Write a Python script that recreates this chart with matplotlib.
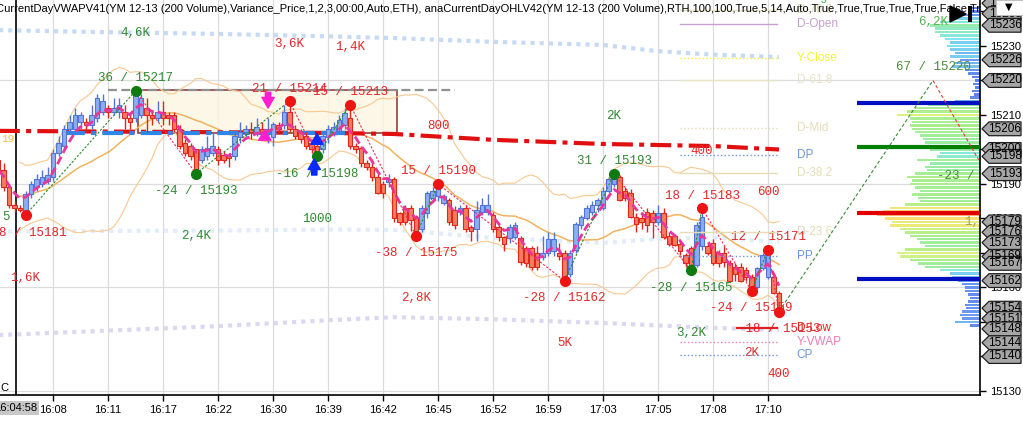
import numpy as np
import pandas as pd
import matplotlib
matplotlib.use("Agg")
import matplotlib.pyplot as plt
import matplotlib.transforms as mtransforms
from matplotlib.colors import LinearSegmentedColormap, Normalize
from matplotlib.patches import Polygon, Rectangle

# ==================================
# DATA
# ==================================

opens = [
    15197, 15194, 15189, 15184, 15183, 15182, 15187, 15189, 15190, 15191,
    15192, 15199, 15201, 15206, 15206, 15208, 15208, 15207, 15209, 15211,
    15212, 15211, 15211, 15211, 15209, 15209, 15210, 15212, 15210, 15209,
    15211, 15210, 15210, 15206, 15202, 15201, 15200, 15197, 15198, 15199,
    15200, 15198.5, 15198, 15198, 15203.5, 15205, 15206, 15205, 15206, 15205,
    15203.5, 15207, 15207, 15211, 15206, 15205, 15204, 15202, 15201, 15200,
    15203.5, 15205, 15205.5, 15207, 15209, 15201, 15200.5, 15196, 15195, 15192,
    15190, 15190.5, 15191.5, 15181.5, 15183, 15183, 15180.5, 15177, 15181.5, 15186,
    15186.5, 15184.5, 15185.5, 15182.5, 15182, 15183, 15177.5, 15177, 15182, 15182,
    15181, 15177.5, 15174.5, 15174.3, 15174.5, 15174.3, 15171.5, 15171.5, 15170, 15168.8,
    15170, 15170.5, 15170, 15170, 15164, 15171, 15178, 15180, 15182, 15184,
    15183, 15188, 15190, 15192, 15188, 15187.5, 15180.5, 15180, 15182, 15181.5,
    15179, 15181.5, 15175, 15175, 15172.5, 15169.5, 15171.5, 15166.5, 15172, 15172,
    15173, 15170, 15170, 15167, 15166, 15166, 15165, 15163, 15160, 15165.6,
    15163, 15163, 15158.4,
]
highs = [
    15199, 15196, 15190, 15185, 15184, 15188, 15191, 15193, 15194, 15195,
    15200, 15204, 15207, 15210, 15212, 15211, 15209, 15213, 15216, 15216,
    15213, 15215, 15215, 15213, 15211, 15217.2, 15216, 15215, 15211, 15214,
    15214, 15211, 15211, 15207, 15203, 15202, 15200, 15201, 15204, 15205,
    15201, 15199.5, 15199, 15205, 15208, 15207, 15208, 15209, 15208, 15209,
    15208, 15208, 15213, 15214.3, 15207, 15206, 15205, 15203, 15202, 15205,
    15207, 15208, 15210, 15212, 15213.5, 15202, 15201, 15197, 15196, 15193,
    15191, 15193, 15192, 15182, 15184, 15184, 15181, 15184, 15188, 15189,
    15190.3, 15187, 15186, 15183.5, 15184, 15184, 15178, 15185, 15186, 15187,
    15182, 15178, 15175, 15178.5, 15179, 15175, 15172, 15172, 15172, 15175,
    15176, 15176, 15173, 15171, 15171, 15179, 15181, 15184, 15185, 15186,
    15189, 15192, 15193.2, 15192.5, 15189, 15188.5, 15181.5, 15182, 15183, 15182.5,
    15184, 15183, 15176, 15175.5, 15173.5, 15170, 15172, 15179, 15183.3, 15173,
    15174, 15171, 15172, 15168, 15167, 15167, 15166, 15164, 15166, 15170,
    15171.4, 15164, 15159,
]
lows = [
    15193, 15188, 15183, 15182, 15182, 15181, 15186, 15188, 15189, 15190,
    15191, 15198, 15200, 15205, 15205, 15206, 15205, 15206, 15208, 15210,
    15209, 15210, 15209, 15206, 15206, 15208, 15209, 15205, 15207, 15208,
    15207, 15207, 15205, 15200, 15198, 15197, 15193.3, 15196, 15197, 15198,
    15195.5, 15196, 15195, 15197, 15202, 15203, 15203, 15204, 15204, 15202,
    15201, 15205, 15206, 15205, 15203, 15202, 15200, 15199, 15198.4, 15199,
    15202, 15204, 15205, 15206, 15200, 15199, 15195, 15194, 15191, 15187,
    15186, 15189, 15179, 15178, 15178, 15176.5, 15175.2, 15176, 15180, 15185,
    15185, 15184, 15178, 15177, 15181, 15176, 15173.5, 15173.5, 15181, 15181,
    15176, 15173.5, 15170.5, 15173, 15174, 15166.5, 15166, 15165, 15165, 15168,
    15169, 15169, 15168, 15162.2, 15163, 15170, 15177, 15179.5, 15181, 15182,
    15182.5, 15187.5, 15189, 15185, 15185, 15180, 15176, 15177, 15176, 15174.3,
    15178, 15174, 15172, 15172, 15169.5, 15166, 15165.6, 15166, 15171, 15169.5,
    15166.5, 15166, 15166, 15161.5, 15162, 15161.5, 15162, 15159.3, 15159.5, 15165,
    15162.5, 15158, 15153.2,
]
closes = [
    15194, 15189, 15184, 15183, 15182.5, 15187, 15190, 15191.5, 15192, 15192.5,
    15199, 15202, 15206, 15208, 15210, 15210, 15207, 15210, 15215, 15214,
    15211, 15212, 15213, 15209, 15208, 15216, 15215, 15210, 15209, 15211,
    15209, 15209, 15206, 15201, 15199, 15198, 15194, 15200, 15200.5, 15201,
    15197, 15197, 15197.5, 15204, 15205, 15206, 15205, 15206.5, 15205, 15206,
    15207.5, 15206, 15211, 15206, 15204, 15203, 15201, 15200, 15199.5, 15204,
    15206, 15206.5, 15208.5, 15210.5, 15201, 15200, 15196, 15195, 15192, 15187.5,
    15187.5, 15191.5, 15180, 15179, 15179, 15179.5, 15176.5, 15183, 15187.5, 15188,
    15189, 15186.5, 15179, 15178, 15183, 15177, 15176.5, 15182.5, 15184, 15184,
    15177, 15174.5, 15172.5, 15177.5, 15178, 15167.4, 15167, 15166, 15166, 15170,
    15174, 15174, 15169, 15163, 15170, 15178.5, 15180.5, 15183, 15184, 15185.5,
    15188, 15191.5, 15192.5, 15185.5, 15186, 15180.5, 15178.5, 15179, 15178, 15179,
    15181.5, 15174.6, 15172.5, 15172.3, 15170.5, 15167, 15166, 15178, 15180.5, 15170,
    15167, 15167, 15167.5, 15162, 15164, 15162, 15163, 15160, 15165.6, 15169.4,
    15169.4, 15158.5, 15153.5,
]

time_ticks = [10, 20, 30, 40, 50, 60, 70, 80, 90, 100, 110, 120, 130, 140]
time_labels = [
    "16:08", "16:11", "16:17", "16:22", "16:30", "16:39", "16:42",
    "16:45", "16:52", "16:59", "17:03", "17:05", "17:08", "17:10"
]
session_break = 3.3

# zigzag swings
swing_idx = [5, 25, 36, 53, 58, 64, 76, 80, 103, 112, 126, 128, 137, 140, 142]
swing_price = [15181, 15217, 15193, 15214, 15198, 15213, 15175, 15190,
               15162, 15193, 15165, 15183, 15159, 15171, 15153]
swing_prev = 15199
swing_green = [False, True, True, False, True, False, False, False,
               False, True, True, False, False, False, False]
swing_vol = ["1,6K", "4,6K", "2,4K", "3,6K", "1000", "1,4K", "2,8K", "800",
             "5K", "2K", "3,2K", "400", "2K", "600", "400"]

# projected swings
proj_idx = [142, 170, 178.3]
proj_price = [15153, 15220, 15197]
proj_vol = ["", "6,2K", "1,8K"]

# vwap and its bands
vwap_idx = [0, 20, 40, 60, 72, 90, 110, 120, 130, 142]
vwap = [15205.4, 15205.2, 15205.0, 15204.8, 15204.5, 15202.8, 15201.6,
        15201.3, 15201.0, 15200.0]
band_up1 = [15234.6, 15234.0, 15233.5, 15232.8, 15232.3, 15231.2, 15230.3,
            15228.5, 15227.5, 15226.8]
band_dn1 = [15176.2, 15176.4, 15176.5, 15176.8, 15176.7, 15174.4, 15172.9,
            15174.1, 15174.5, 15173.2]
band_dn2 = [15146.2, 15147.5, 15148.8, 15150.5, 15151.4, 15150.8, 15149.7,
            15149.0, 15148.3, 15147.7]
vwap_flat_start, vwap_flat_end, vwap_flat = 12, 63, 15204.8

# sideways box
box_x = [25.5, 72.5]
box_y = [15204.8, 15217.2]
box_ref_x = [20, 83]

# signal arrows (index, tail price, tip price, colour)
sig_idx = [49.1, 48.5, 57.5, 58.0]
sig_tail = [15216.6, 15203.4, 15192.6, 15202.3]
sig_tip = [15212.0, 15205.8, 15197.3, 15204.6]
sig_col = ["#ff1fd0", "#ff1fd0", "#0a2aff", "#0a2aff"]

# day levels
level_names = ["D-High", "D-78.6", "D-Open", "Y-Close", "D-61.8", "D-Mid", "DP",
               "D-38.2", "D-23.6", "PP", "D-Low", "Y-VWAP", "CP"]
level_prices = [15244.3, 15240.4, 15236.4, 15226.5, 15220.1, 15206.2, 15198.4,
                15193.2, 15176.0, 15169.1, 15148.3, 15144.2, 15140.4]
level_colors = ["#3cc43c", "#e6e2bc", "#c8a0d0", "#f2f230", "#e8e4c6", "#e4dcb4",
                "#6c94d8", "#e4dcb4", "#e4dcb4", "#6c94d8", "#e02020", "#e87cb4",
                "#6c94d8"]
level_styles = ["-", "-", "-", ":", "-", ":", ":", "-", "-", ":", "-", ":", ":"]
level_start = [124, 124, 124, 124, 124, 124, 124, 124, 124, 124, 134.4, 124, 124]
level_end = 141.6

# right side key lines
key_prices = [15213.5, 15200.7, 15181.6, 15162.5]
key_colors = ["#0010c0", "#008000", "#e00000", "#0010c0"]
key_start = 156.2

# volume profile (one row per point)
profile_price = list(range(15149, 15242))
profile_vol = [
    10, 25, 18, 20, 18, 14, 15, 12, 10, 12,
    15, 15, 18, 22, 28, 30, 40, 55, 62, 70,
    80, 83, 75, 55, 60, 63, 70, 75, 80, 90,
    88, 95, 103, 97, 90, 75, 60, 62, 68, 60,
    65, 70, 68, 73, 65, 53, 55, 50, 63, 43,
    40, 50, 52, 55, 57, 60, 65, 68, 70, 68,
    70, 83, 73, 65, 52, 25, 10, 6, 8, 5,
    7, 5, 8, 12, 15, 28, 25, 20, 30, 25,
    30, 33, 30, 35, 40, 45, 45, 50, 40, 30,
    20, 8, 10,
]

# price markers on the right axis
marker_prices = [15242.4, 15239.4, 15236, 15226, 15220, 15206, 15200, 15198,
                 15193, 15179, 15176, 15173, 15169, 15167, 15162, 15154,
                 15151, 15148, 15144, 15140]
marker_labels = ["15242", "15239", "15236", "15226", "15220", "15206", "15200",
                 "15198", "15193", "15179", "15176", "15173", "15169", "15167",
                 "15162", "15154", "15151", "15148", "15144", "15140"]

title = ("CurrentDayVWAPV41(YM 12-13 (200 Volume),Variance_Price,1,2,3,00:00,Auto,ETH), "
         "anaCurrentDayOHLV42(YM 12-13 (200 Volume),RTH,100,100,True,5,14,Auto,"
         "True,True,True,True,True,False,True,True")

# ==================================
# FIGURE
# ==================================

W, H = 1023, 423
PX = 5.5  # pixels per bar


def fx(px):
    return px / W


def fy(py):
    return 1 - py / H


fig = plt.figure(figsize=(W / 100, H / 100), dpi=100)
fig.patch.set_facecolor("white")
ax = fig.add_axes([0, fy(395), fx(980), 395 / H])
ax.set_xlim(2 / PX, 982 / PX)
ax.set_ylim(15128.84, 15243.33)
xmax = 982 / PX

mono = "Liberation Mono"
sans = "Liberation Sans"
RED = "#e4282c"
GREEN = "#2f8a32"

# grid
for t in time_ticks:
    ax.axvline(t, color="#dcdcdc", lw=0.9, zorder=0)
for g in [15130, 15160, 15190, 15220]:
    ax.axhline(g, color="#dcdcdc", lw=0.9, zorder=0)

ax.axvline(session_break, color="black", lw=1.2, zorder=1)

# ==================================
# VOLUME PROFILE
# ==================================

prof_cmap = LinearSegmentedColormap.from_list(
    "prof",
    [(0, "#5a78e8"), (0.2, "#6c9cf0"), (0.33, "#80e6f2"), (0.5, "#98eca6"),
     (0.7, "#acee8e"), (0.82, "#def27e"), (0.92, "#f8e274"), (1.0, "#ffb474")]
)
pv = np.array(profile_vol, dtype=float)
pnorm = Normalize(0, pv.max())
ax.barh(profile_price, pv / PX, left=xmax - pv / PX, height=0.72,
        color=prof_cmap(pnorm(pv)), linewidth=0, zorder=1)

# ==================================
# VWAP BANDS
# ==================================

ax.plot(vwap_idx, band_up1, color="#c6daf6", lw=3, ls=(0, (1, 1.2)), zorder=1)
ax.plot(vwap_idx, band_dn1, color="#e2ecfa", lw=3, ls=(0, (1, 1.2)), zorder=1)
ax.plot(vwap_idx, band_dn2, color="#dcd8f0", lw=3, ls=(0, (1, 1.2)), zorder=1)

# sideways box
ax.add_patch(Rectangle((box_x[0], box_y[0]), box_x[1] - box_x[0], box_y[1] - box_y[0],
                       facecolor="#fcf6e2", alpha=0.8, edgecolor="#7a1010",
                       lw=1.2, zorder=1))
ax.plot(box_ref_x, [box_y[1], box_y[1]], color="#909090", lw=1.6,
        ls=(0, (4, 2)), zorder=2)

# bollinger-style bands
cs = pd.Series(closes, dtype=float)
mid = cs.rolling(20, min_periods=5).mean()
sd = cs.rolling(20, min_periods=5).std()
idx = np.arange(len(closes))
ax.plot(idx, mid, color="#f2b25e", lw=1.1, zorder=2)
ax.plot(idx, mid + 2 * sd, color="#f8c890", lw=0.8, zorder=2)
ax.plot(idx, mid - 2 * sd, color="#f8c890", lw=0.8, zorder=2)

ax.plot(vwap_idx, vwap, color="#e01010", lw=3, ls=(0, (5, 1.5, 1.2, 1.5)), zorder=3)
ax.plot([vwap_flat_start, vwap_flat_end], [vwap_flat, vwap_flat], color="#2f86e6",
        lw=3, ls=(0, (5, 1.5, 1.2, 1.5)), zorder=3)

# ==================================
# CANDLES
# ==================================

o = np.array(opens, dtype=float)
h = np.array(highs, dtype=float)
l = np.array(lows, dtype=float)
c = np.array(closes, dtype=float)
up = c >= o
body = np.maximum(np.abs(c - o), 0.35)
for mask, face, edge in [(up, "#8cadf2", "#5274d8"), (~up, "#f57d5f", "#e0261b")]:
    ax.vlines(idx[mask], l[mask], h[mask], color=edge, lw=1, zorder=4)
    ax.bar(idx[mask], body[mask], bottom=np.minimum(o, c)[mask], width=0.8,
           color=face, edgecolor=edge, linewidth=0.8, zorder=5)

ema = cs.ewm(span=5, adjust=False).mean()
ax.plot(idx, ema, color="#e8369c", lw=2, ls=(0, (3, 1.5)), zorder=6)

# ==================================
# ZIGZAG
# ==================================

prev_prices = [swing_prev] + swing_price[:-1]
for k in range(len(swing_idx) - 1):
    rising = swing_price[k + 1] > swing_price[k]
    ax.plot(swing_idx[k:k + 2], swing_price[k:k + 2],
            color="#2a8a2a" if rising else "#e83060", lw=0.8,
            ls=(0, (2, 1.5)), zorder=6)

for k in range(len(swing_idx)):
    col = GREEN if swing_green[k] else RED
    dot = "#107a10" if swing_green[k] else "#ee1414"
    is_high = swing_price[k] > prev_prices[k]
    ax.plot(swing_idx[k], swing_price[k], "o", ms=7, color=dot, zorder=8)
    diff = swing_price[k] - prev_prices[k]
    off1, off2 = (12.5, 57.5) if is_high else (-17.5, -62.5)
    ax.annotate(f"{diff} / {swing_price[k]}", (swing_idx[k], swing_price[k]),
                xytext=(0, off1), textcoords="offset pixels", ha="center",
                va="center", family=mono, fontsize=9, color=col, zorder=9)
    ax.annotate(swing_vol[k], (swing_idx[k], swing_price[k]),
                xytext=(0, off2), textcoords="offset pixels", ha="center",
                va="center", family=mono, fontsize=9, color=col, zorder=9)

# signal arrows
for k in range(len(sig_idx)):
    ax.annotate("", xy=(sig_idx[k], sig_tip[k]), xytext=(sig_idx[k], sig_tail[k]),
                arrowprops=dict(arrowstyle="simple,head_length=0.7,head_width=0.8,tail_width=0.35",
                                color=sig_col[k], shrinkA=0, shrinkB=0,
                                mutation_scale=11), zorder=9)

# ==================================
# LEVELS
# ==================================

for name, p, col, st, x0 in zip(level_names, level_prices, level_colors,
                                level_styles, level_start):
    lw = 1.6 if name == "D-Low" else 1.0
    ax.plot([x0, level_end], [p, p], color=col, lw=lw, ls=st, zorder=9)
    ax.text(145.2, p, name, color=col, family=sans, fontsize=8.5,
            va="center", ha="left", zorder=3)

for p, col in zip(key_prices, key_colors):
    ax.plot([key_start, xmax], [p, p], color=col, lw=3, zorder=7,
            solid_capstyle="butt")

# projection
ax.plot(proj_idx[:2], proj_price[:2], color="#3a8a3a", lw=0.8,
        ls=(0, (3, 2)), zorder=7)
ax.plot(proj_idx[1:], proj_price[1:], color="#e04040", lw=0.8,
        ls=(0, (3, 2)), zorder=7)
proj_col = [GREEN, "#58b058", "#a4a458"]
for k in range(1, len(proj_idx)):
    diff = proj_price[k] - proj_price[k - 1]
    is_high = diff > 0
    off1, off2 = (13, 58) if is_high else (-16, -62)
    ax.annotate(f"{diff} / {proj_price[k]}", (proj_idx[k], proj_price[k]),
                xytext=(0, off1), textcoords="offset pixels", ha="center",
                va="center", family=mono, fontsize=9, color="#4a8c3a",
                zorder=9, clip_on=True)
    ax.annotate(proj_vol[k], (proj_idx[k], proj_price[k]),
                xytext=(0, off2), textcoords="offset pixels", ha="center",
                va="center", family=mono, fontsize=9, color=proj_col[k],
                zorder=9, clip_on=True)

# ==================================
# AXES
# ==================================

ax.yaxis.tick_right()
ax.set_yticks(range(15130, 15250, 10))
ax.tick_params(axis="y", labelsize=8, length=4, pad=3, width=1)
ax.set_xticks(time_ticks)
ax.set_xticklabels(time_labels)
ax.tick_params(axis="x", labelsize=8, length=4, pad=3, width=1)
for lab in ax.get_xticklabels() + ax.get_yticklabels():
    lab.set_family(sans)
ax.spines["top"].set_visible(False)
ax.spines["left"].set_visible(False)
ax.spines["right"].set_linewidth(1.2)
ax.spines["bottom"].set_linewidth(1.2)

# right axis price markers
trans = mtransforms.blended_transform_factory(fig.transFigure, ax.transData)
half = 2.0
for p, lab in zip(marker_prices, marker_labels):
    pts = [(fx(982), p), (fx(989), p + half), (fx(1021), p + half),
           (fx(1021), p - half), (fx(989), p - half)]
    ax.add_patch(Polygon(pts, closed=True, transform=trans, facecolor="#a6a6a6",
                         edgecolor="#202020", lw=0.9, clip_on=False, zorder=20))
    ax.text(fx(1005), p, lab, transform=trans, ha="center", va="center",
            fontsize=8.5, family=sans, color="black", clip_on=False, zorder=21)

# title line
ax.text(-0.004, 0.99, title, transform=ax.transAxes, ha="left", va="top",
        fontsize=8, family=sans, color="black", clip_on=True, zorder=15)

# small leftovers at the chart edges
fig.text(fx(1), fy(139), "19", color="#f0c040", fontsize=8, family=mono, va="center")
fig.text(fx(2), fy(217), "5", color=GREEN, fontsize=9, family=mono, va="center")
fig.text(fx(0), fy(388), "C", color="black", fontsize=8, family=sans, va="center")
fig.text(fx(37), fy(408), "16:04:58", ha="right", va="center", fontsize=8,
         family=sans, bbox=dict(fc="#c8c8c8", ec="none", pad=1.5))

# play icon and drop-down box at top right
fig.patches.append(Polygon([(fx(950), fy(6)), (fx(950), fy(22)), (fx(966), fy(14))],
                           closed=True, transform=fig.transFigure, facecolor="black",
                           edgecolor="black"))
fig.patches.append(Rectangle((fx(968), fy(22)), fx(4), 16 / H, transform=fig.transFigure,
                             facecolor="black", edgecolor="none"))
fig.patches.append(Rectangle((fx(996), fy(15)), fx(27), 15 / H, transform=fig.transFigure,
                             facecolor="white", edgecolor="#c0c0c0", lw=0.8))
fig.text(fx(1009), fy(7), "▼", ha="center", va="center", fontsize=7,
         family="DejaVu Sans", color="black")

fig.savefig("out.png", dpi=100)
plt.close(fig)
